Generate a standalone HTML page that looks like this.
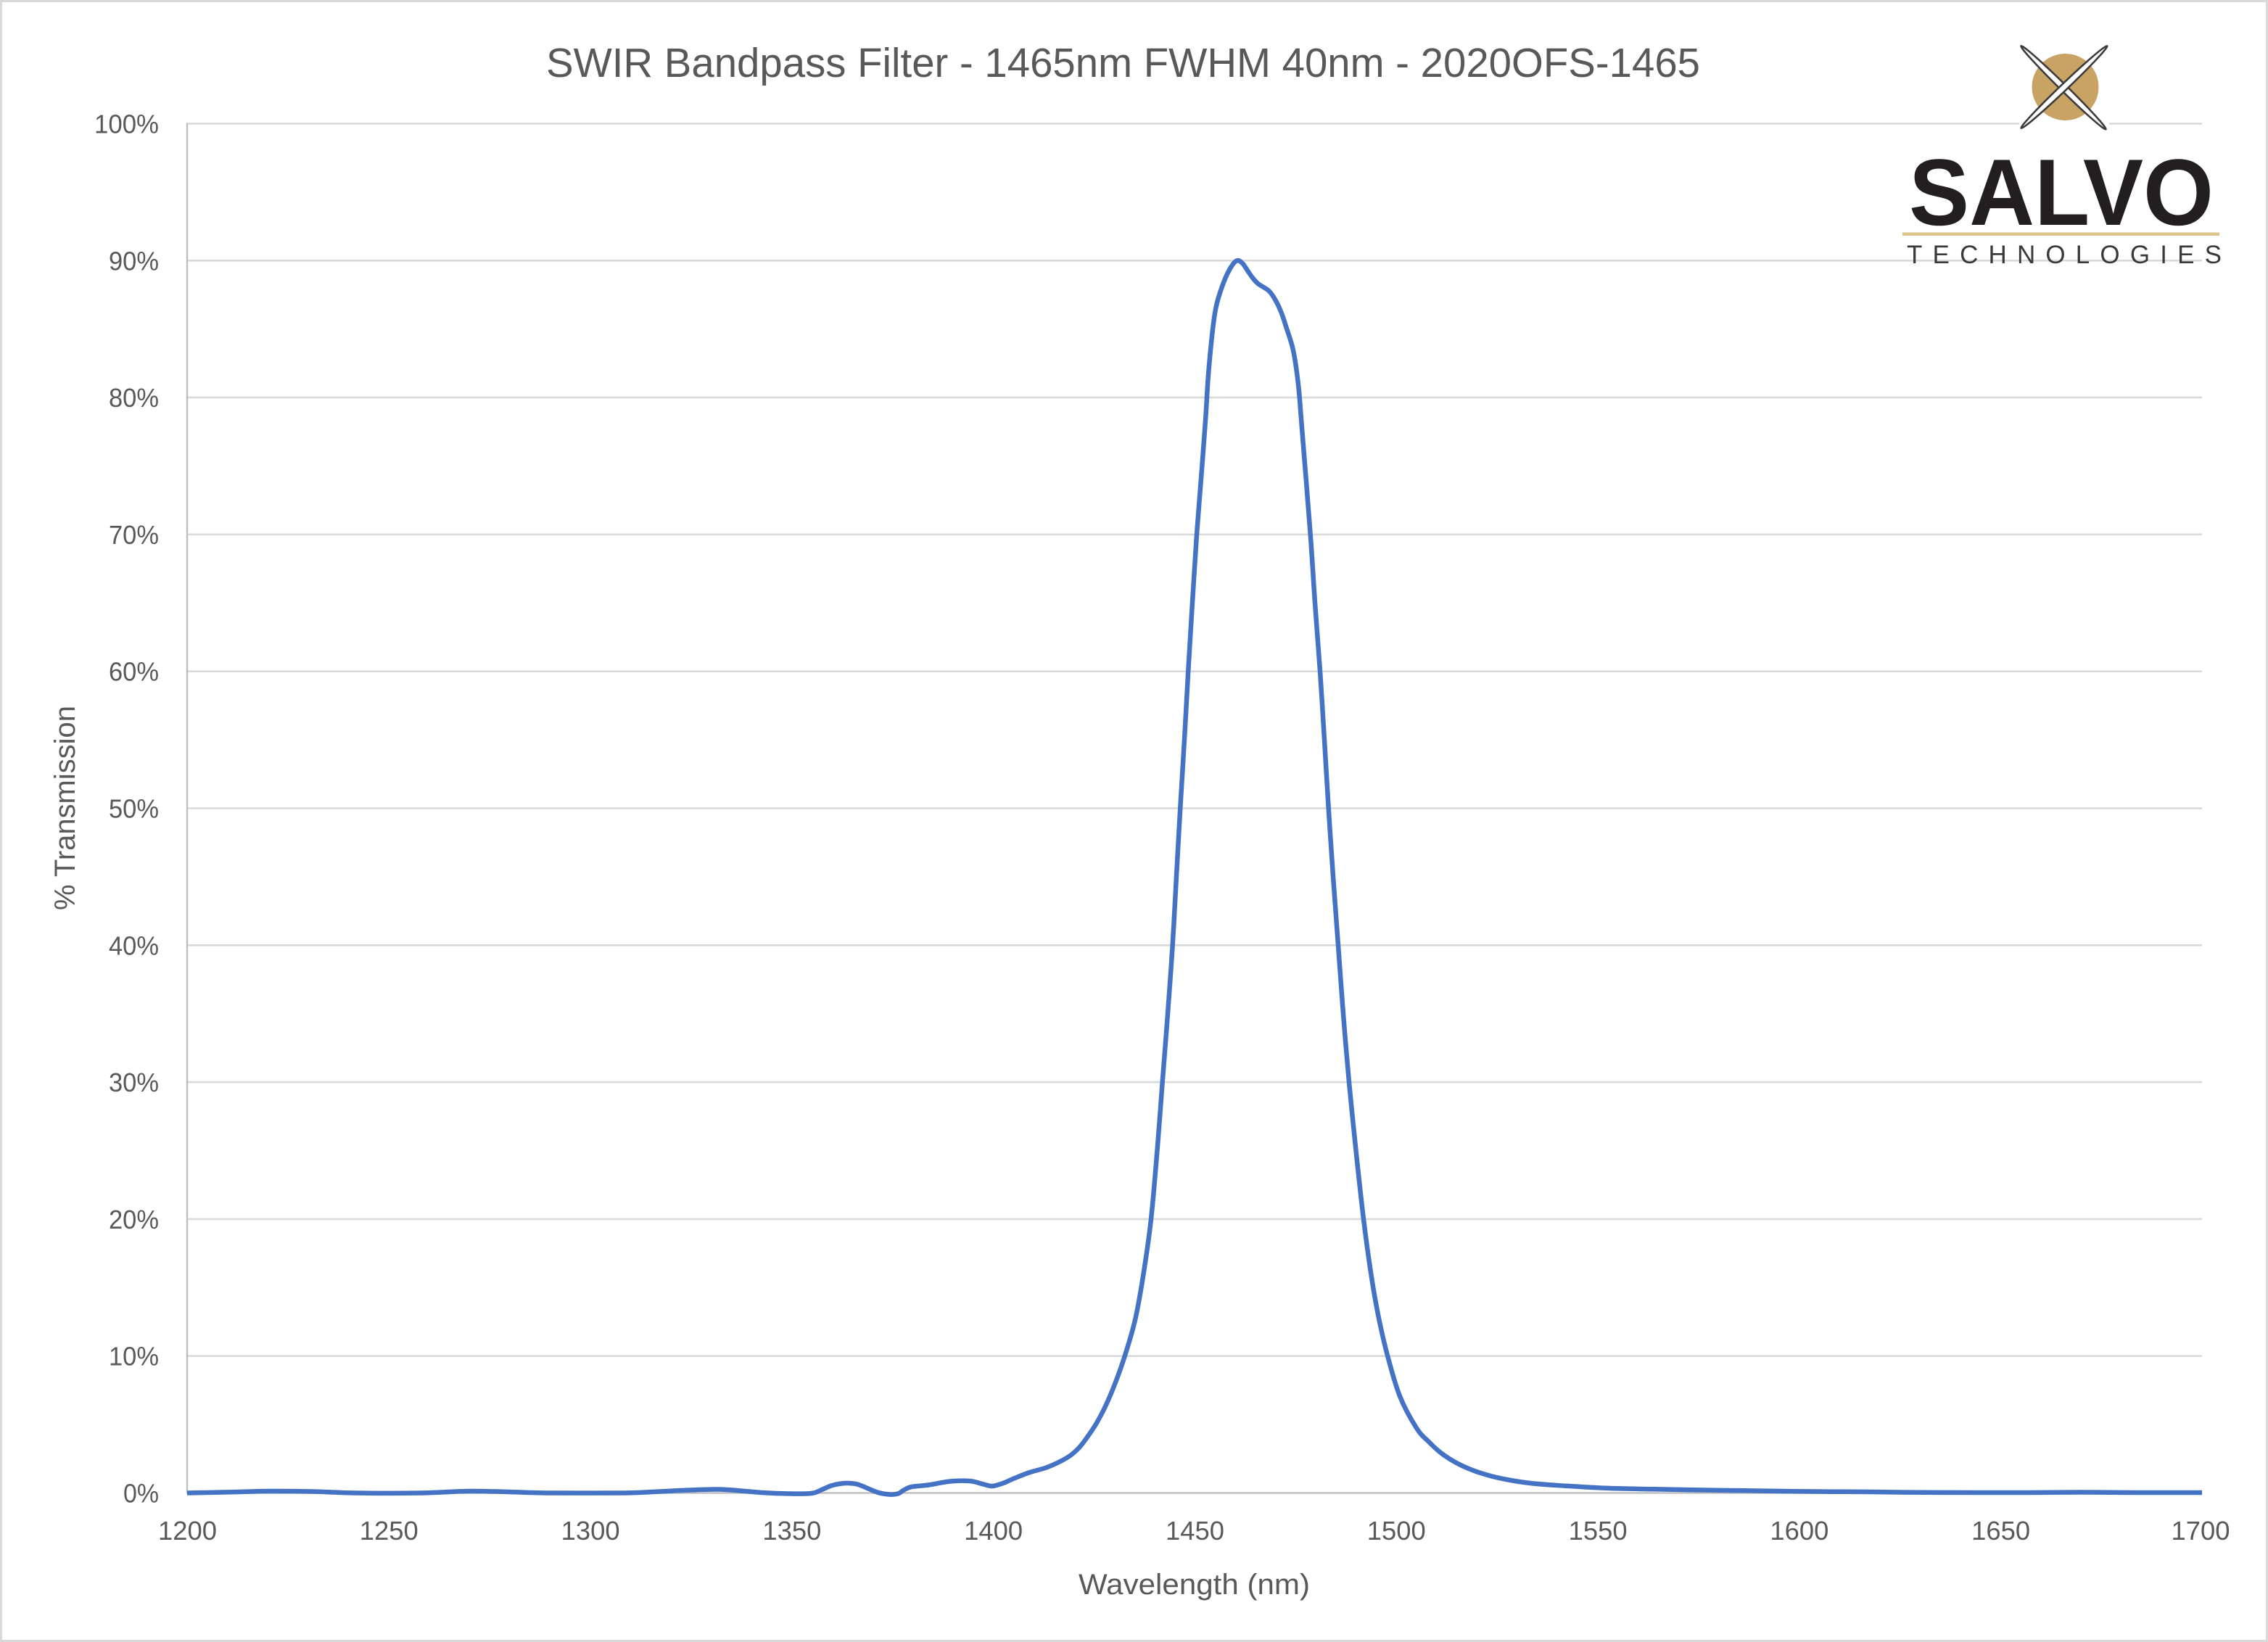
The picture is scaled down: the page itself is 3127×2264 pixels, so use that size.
<!DOCTYPE html>
<html>
<head>
<meta charset="utf-8">
<style>
  html, body { margin: 0; padding: 0; background: #ffffff; }
  svg { display: block; }
  text { font-family: "Liberation Sans", "DejaVu Sans", sans-serif; }
</style>
</head>
<body>
<svg width="3127" height="2264" viewBox="0 0 3127 2264" xmlns="http://www.w3.org/2000/svg">
  <!-- background & frame -->
  <rect x="0" y="0" width="3127" height="2264" fill="#ffffff"/>
  <rect x="1.5" y="1.5" width="3124" height="2261" fill="none" stroke="#d9d9d9" stroke-width="3"/>

  <!-- gridlines -->
  <g stroke="#d9d9d9" stroke-width="2.6">
    <line x1="258" y1="170.5" x2="3036" y2="170.5"/>
    <line x1="258" y1="359.3" x2="3036" y2="359.3"/>
    <line x1="258" y1="548.1" x2="3036" y2="548.1"/>
    <line x1="258" y1="736.9" x2="3036" y2="736.9"/>
    <line x1="258" y1="925.7" x2="3036" y2="925.7"/>
    <line x1="258" y1="1114.5" x2="3036" y2="1114.5"/>
    <line x1="258" y1="1303.3" x2="3036" y2="1303.3"/>
    <line x1="258" y1="1492.1" x2="3036" y2="1492.1"/>
    <line x1="258" y1="1680.9" x2="3036" y2="1680.9"/>
    <line x1="258" y1="1869.7" x2="3036" y2="1869.7"/>
  </g>
  <!-- axes -->
  <line x1="258" y1="2058.5" x2="3036" y2="2058.5" stroke="#bfbfbf" stroke-width="2.6"/>
  <line x1="258" y1="169.5" x2="258" y2="2059.5" stroke="#bfbfbf" stroke-width="2.4"/>

  <!-- Y tick labels -->
  <g fill="#595959" font-size="36" text-anchor="end">
    <text x="219" y="183.5" textLength="89" lengthAdjust="spacingAndGlyphs">100%</text>
    <text x="219" y="372.3" textLength="69" lengthAdjust="spacingAndGlyphs">90%</text>
    <text x="219" y="561.1" textLength="69" lengthAdjust="spacingAndGlyphs">80%</text>
    <text x="219" y="749.9" textLength="69" lengthAdjust="spacingAndGlyphs">70%</text>
    <text x="219" y="938.7" textLength="69" lengthAdjust="spacingAndGlyphs">60%</text>
    <text x="219" y="1127.5" textLength="69" lengthAdjust="spacingAndGlyphs">50%</text>
    <text x="219" y="1316.3" textLength="69" lengthAdjust="spacingAndGlyphs">40%</text>
    <text x="219" y="1505.1" textLength="69" lengthAdjust="spacingAndGlyphs">30%</text>
    <text x="219" y="1693.9" textLength="69" lengthAdjust="spacingAndGlyphs">20%</text>
    <text x="219" y="1882.7" textLength="69" lengthAdjust="spacingAndGlyphs">10%</text>
    <text x="219" y="2071.5" textLength="49" lengthAdjust="spacingAndGlyphs">0%</text>
  </g>

  <!-- X tick labels -->
  <g fill="#595959" font-size="36" text-anchor="middle">
    <text x="258.5" y="2123" textLength="81" lengthAdjust="spacingAndGlyphs">1200</text>
    <text x="536.3" y="2123" textLength="81" lengthAdjust="spacingAndGlyphs">1250</text>
    <text x="814.1" y="2123" textLength="81" lengthAdjust="spacingAndGlyphs">1300</text>
    <text x="1091.9" y="2123" textLength="81" lengthAdjust="spacingAndGlyphs">1350</text>
    <text x="1369.7" y="2123" textLength="81" lengthAdjust="spacingAndGlyphs">1400</text>
    <text x="1647.5" y="2123" textLength="81" lengthAdjust="spacingAndGlyphs">1450</text>
    <text x="1925.3" y="2123" textLength="81" lengthAdjust="spacingAndGlyphs">1500</text>
    <text x="2203.1" y="2123" textLength="81" lengthAdjust="spacingAndGlyphs">1550</text>
    <text x="2480.9" y="2123" textLength="81" lengthAdjust="spacingAndGlyphs">1600</text>
    <text x="2758.7" y="2123" textLength="81" lengthAdjust="spacingAndGlyphs">1650</text>
    <text x="3034" y="2123" textLength="81" lengthAdjust="spacingAndGlyphs">1700</text>
  </g>

  <!-- Title -->
  <text x="753" y="106" fill="#595959" font-size="57" textLength="1591" lengthAdjust="spacingAndGlyphs">SWIR Bandpass Filter - 1465nm FWHM 40nm - 2020OFS-1465</text>

  <!-- Axis titles -->
  <text x="1646.5" y="2198" fill="#595959" font-size="40" text-anchor="middle" textLength="319" lengthAdjust="spacingAndGlyphs">Wavelength (nm)</text>
  <text transform="translate(103,1114) rotate(-90)" x="0" y="0" fill="#595959" font-size="40" text-anchor="middle" textLength="282" lengthAdjust="spacingAndGlyphs">% Transmission</text>

  <!-- Data series -->
  <polyline id="curve" fill="none" stroke="#4472C4" stroke-width="6.5" stroke-linejoin="round" stroke-linecap="butt"
    points="258,2058.5 330,2057 370,2056 430,2056.5 490,2058.5 580,2058.5 647,2056 700,2057 760,2058.5 860,2058.5 900,2057 940,2055 985,2053.5 1010,2054.5 1050,2058 1088,2059.5 1119,2059 1133,2054 1146,2048.5 1160,2045.5 1170,2045 1182,2046.5 1196,2052 1211,2058 1226,2060.5 1238,2059.5 1247,2054 1257,2050 1280,2047.5 1310,2042.5 1337,2042 1356,2046.5 1368,2049 1383,2045 1398,2038.5 1420,2030 1444,2023 1471,2010 1486,1998 1498,1983 1512,1962 1525,1937 1538,1906 1551,1869 1565,1820 1576,1760 1587,1681 1596,1580 1602.7,1492 1610,1398 1616.7,1303 1622,1208 1627.3,1114 1633,1020 1638.3,925 1644,831 1650,737 1656,660 1662,580 1666,517 1671.7,457 1676.7,423 1685,395 1695,372 1705,359.5 1713,363 1720,373 1727,383 1735,391.5 1750,401.5 1760,416.5 1767,432 1773,450 1783,483 1790,530 1795,590 1806.7,737 1813,831 1820,925 1826,1020 1831.7,1114 1838,1208 1845,1303 1852,1398 1860,1492 1870,1591 1880,1681 1890,1754.5 1900,1812.5 1913,1869 1930,1925 1953,1969 1970,1988 1987,2003.5 2008,2017 2030,2027 2055,2035 2080,2040.5 2110,2045 2147,2048 2213,2051.8 2280,2053.3 2350,2054.5 2420,2055.5 2500,2056.5 2580,2057 2650,2057.8 2720,2058 2800,2058 2870,2057.5 2940,2058 3036,2058"/>

  <!-- Logo -->
  <rect x="2784" y="58" width="124" height="126" fill="#ffffff"/>
  <circle cx="2847.5" cy="120" r="46" fill="#c8a364"/>
  <ellipse cx="2845" cy="120.8" rx="82" ry="4.5" fill="#ffffff" stroke="#3c3c3c" stroke-width="2.6" transform="rotate(44.5 2845 120.8)"/>
  <ellipse cx="2846" cy="120" rx="82" ry="4.5" fill="#ffffff" stroke="#3c3c3c" stroke-width="2.6" transform="rotate(-43.7 2846 120)"/>
  <text x="2632" y="310" fill="#231f20" font-size="130" font-weight="bold" textLength="420" lengthAdjust="spacingAndGlyphs">SALVO</text>
  <rect x="2623" y="320.5" width="437" height="4.5" fill="#dcc48a"/>
  <text x="2629" y="363" fill="#3a3a3a" font-size="35" textLength="434" lengthAdjust="spacing">TECHNOLOGIES</text>
</svg>
<script>
(function(){
  try {
    var pl = document.getElementById('curve');
    var raw = pl.getAttribute('points').trim().split(/\s+/).map(function(s){var a=s.split(',');return [parseFloat(a[0]),parseFloat(a[1])];});
    var n = raw.length, d = 'M' + raw[0][0] + ',' + raw[0][1];
    for (var i = 0; i < n - 1; i++) {
      var p0 = raw[i > 0 ? i - 1 : i], p1 = raw[i], p2 = raw[i + 1], p3 = raw[i + 2 < n ? i + 2 : i + 1];
      var c1x = p1[0] + (p2[0] - p0[0]) / 6, c1y = p1[1] + (p2[1] - p0[1]) / 6;
      var c2x = p2[0] - (p3[0] - p1[0]) / 6, c2y = p2[1] - (p3[1] - p1[1]) / 6;
      d += ' C' + c1x.toFixed(2) + ',' + c1y.toFixed(2) + ' ' + c2x.toFixed(2) + ',' + c2y.toFixed(2) + ' ' + p2[0] + ',' + p2[1];
    }
    var path = document.createElementNS('http://www.w3.org/2000/svg', 'path');
    path.setAttribute('d', d);
    path.setAttribute('fill', 'none');
    path.setAttribute('stroke', '#4472C4');
    path.setAttribute('stroke-width', '6.5');
    path.setAttribute('stroke-linejoin', 'round');
    pl.parentNode.replaceChild(path, pl);
  } catch (e) {}
})();
</script>
</body>
</html>
